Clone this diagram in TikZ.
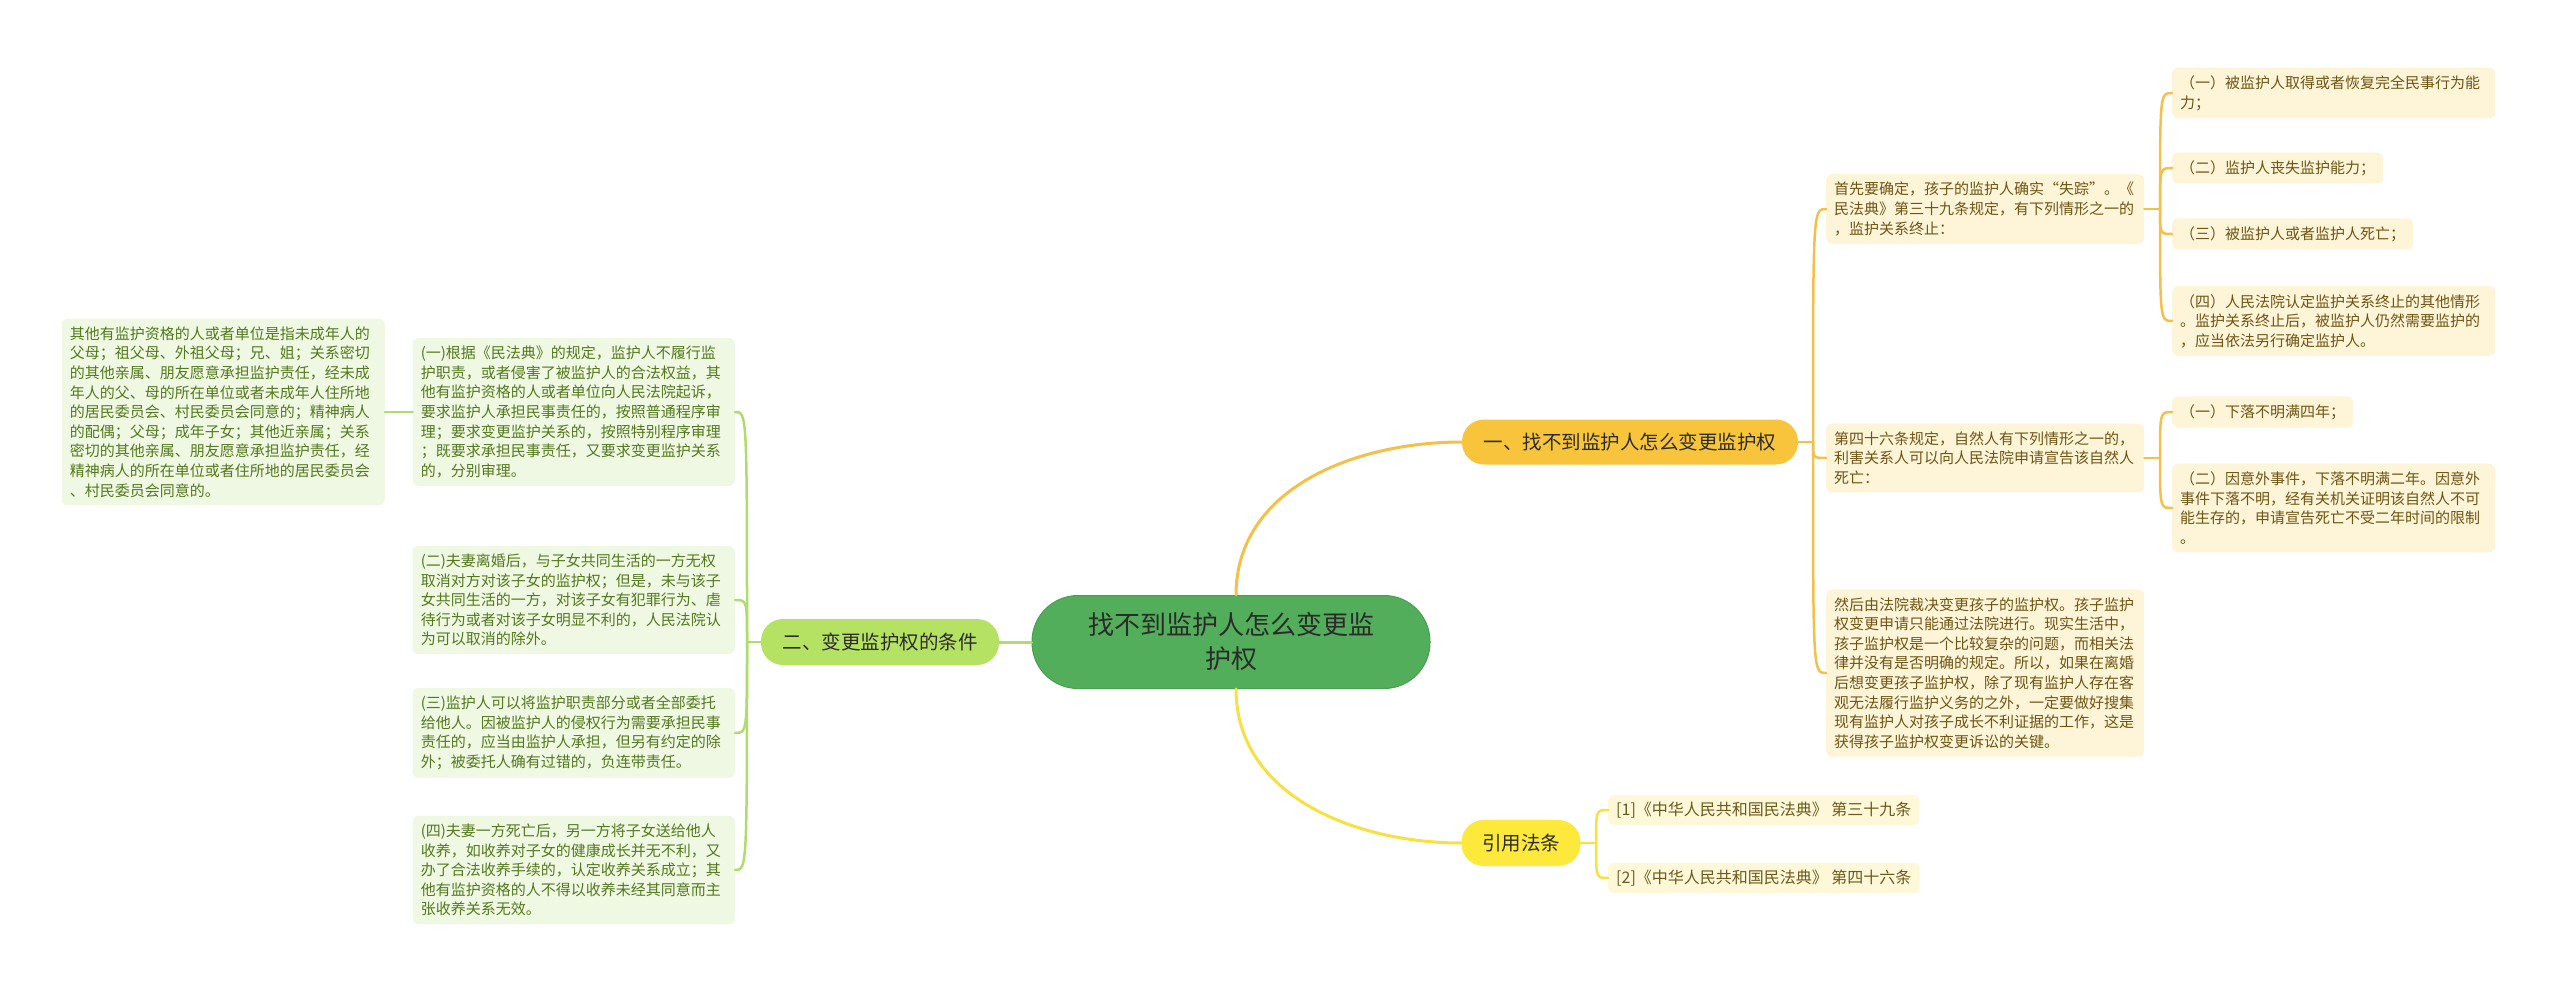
\documentclass[tikz,border=0pt]{standalone}
\usepackage{fontspec}
\setmainfont{Noto Sans CJK SC}
\definecolor{cCenter}{HTML}{52AE5A}
\definecolor{cCenterB}{HTML}{47A04F}
\definecolor{cBrA}{HTML}{F8C43C}
\definecolor{cBrB}{HTML}{B6E264}
\definecolor{cBrC}{HTML}{FDE83C}
\definecolor{fillR}{HTML}{FEF4D8}
\definecolor{textR}{HTML}{6E5514}
\definecolor{fillC}{HTML}{FFF8D8}
\definecolor{textC}{HTML}{6B5A1E}
\definecolor{fillL}{HTML}{EFF8E2}
\definecolor{textL}{HTML}{55781E}
\definecolor{lineO}{HTML}{F4C04A}
\definecolor{lineY}{HTML}{F8E040}
\definecolor{lineG}{HTML}{B0DC6E}
\definecolor{txtDark}{HTML}{2B2B2B}
\begin{document}
\begin{tikzpicture}[x=1pt,y=-1pt,
  leafbase/.style={rounded corners=6pt, inner xsep=8pt, inner ysep=8pt, align=left,
    font=\fontsize{15}{19.6}\selectfont},
  leafR/.style={leafbase, fill=fillR, text=textR},
  leafC/.style={leafbase, fill=fillC, text=textC, font=\fontsize{16}{20}\selectfont, inner ysep=7pt},
  leafL/.style={leafbase, fill=fillL, text=textL},
  branch/.style={rounded corners=22pt, minimum height=45pt, inner xsep=0pt, text=txtDark,
    font=\fontsize{19.5}{23}\selectfont},
  conO/.style={draw=lineO, line width=2.5pt, line cap=round},
  conY/.style={draw=lineY, line width=2.5pt, line cap=round},
  conG/.style={draw=lineG, line width=2.5pt, line cap=round}
]
\useasboundingbox (0,0) rectangle (2560,992);

% center
\node[draw=cCenterB, line width=1pt, fill=cCenter, rounded corners=46pt, minimum width=398pt,
  minimum height=93pt, align=center, text=txtDark, font=\fontsize{26}{34}\selectfont]
  (ctr) at (1231,642) {找不到监护人怎么变更监\\护权};

% branches
\node[branch, fill=cBrA, minimum width=336pt] (bra) at (1630,442) {一、找不到监护人怎么变更监护权};
\node[branch, fill=cBrB, minimum width=238pt, minimum height=46pt] (brb) at (880,642) {二、变更监护权的条件};
\node[branch, fill=cBrC, minimum width=119pt, minimum height=46pt] (brc) at (1521,843) {引用法条};

% right level 2
\node[leafR, text width=302pt, anchor=west] (a1) at (1826,209)
 {首先要确定，孩子的监护人确实“失踪”。《\\民法典》第三十九条规定，有下列情形之一的\\，监护关系终止：};
\node[leafR, text width=302pt, anchor=west] (a2) at (1826,458)
 {第四十六条规定，自然人有下列情形之一的，\\利害关系人可以向人民法院申请宣告该自然人\\死亡：};
\node[leafR, text width=302pt, anchor=west] (a3) at (1826,673)
 {然后由法院裁决变更孩子的监护权。孩子监护\\权变更申请只能通过法院进行。现实生活中，\\孩子监护权是一个比较复杂的问题，而相关法\\律并没有是否明确的规定。所以，如果在离婚\\后想变更孩子监护权，除了现有监护人存在客\\观无法履行监护义务的之外，一定要做好搜集\\现有监护人对孩子成长不利证据的工作，这是\\获得孩子监护权变更诉讼的关键。};

% right level 3
\node[leafR, text width=307pt, anchor=west] (l1) at (2172,93)
 {（一）被监护人取得或者恢复完全民事行为能\\力；};
\node[leafR, anchor=west] (l2) at (2172,168) {（二）监护人丧失监护能力；};
\node[leafR, anchor=west] (l3) at (2172,234) {（三）被监护人或者监护人死亡；};
\node[leafR, text width=307pt, anchor=west] (l4) at (2172,321)
 {（四）人民法院认定监护关系终止的其他情形\\。监护关系终止后，被监护人仍然需要监护的\\，应当依法另行确定监护人。};
\node[leafR, anchor=west] (l5) at (2172,412) {（一）下落不明满四年；};
\node[leafR, text width=307pt, anchor=west] (l6) at (2172,508)
 {（二）因意外事件，下落不明满二年。因意外\\事件下落不明，经有关机关证明该自然人不可\\能生存的，申请宣告死亡不受二年时间的限制\\。};

% citations
\node[leafC, anchor=west] (c1) at (1608,810) {[1]《中华人民共和国民法典》 第三十九条};
\node[leafC, anchor=west] (c2) at (1608,878) {[2]《中华人民共和国民法典》 第四十六条};

% left
\node[leafL, text width=306pt, anchor=east] (b1) at (735,412)
 {(一)根据《民法典》的规定，监护人不履行监\\护职责，或者侵害了被监护人的合法权益，其\\他有监护资格的人或者单位向人民法院起诉，\\要求监护人承担民事责任的，按照普通程序审\\理；要求变更监护关系的，按照特别程序审理\\；既要求承担民事责任，又要求变更监护关系\\的，分别审理。};
\node[leafL, text width=306pt, anchor=east] (b2) at (735,600)
 {(二)夫妻离婚后，与子女共同生活的一方无权\\取消对方对该子女的监护权；但是，未与该子\\女共同生活的一方，对该子女有犯罪行为、虐\\待行为或者对该子女明显不利的，人民法院认\\为可以取消的除外。};
\node[leafL, text width=306pt, anchor=east] (b3) at (735,733)
 {(三)监护人可以将监护职责部分或者全部委托\\给他人。因被监护人的侵权行为需要承担民事\\责任的，应当由监护人承担，但另有约定的除\\外；被委托人确有过错的，负连带责任。};
\node[leafL, text width=306pt, anchor=east] (b4) at (735,870)
 {(四)夫妻一方死亡后，另一方将子女送给他人\\收养，如收养对子女的健康成长并无不利，又\\办了合法收养手续的，认定收养关系成立；其\\他有监护资格的人不得以收养未经其同意而主\\张收养关系无效。};
\node[leafL, text width=307pt, anchor=east] (f1) at (385,412)
 {其他有监护资格的人或者单位是指未成年人的\\父母；祖父母、外祖父母；兄、姐；关系密切\\的其他亲属、朋友愿意承担监护责任，经未成\\年人的父、母的所在单位或者未成年人住所地\\的居民委员会、村民委员会同意的；精神病人\\的配偶；父母；成年子女；其他近亲属；关系\\密切的其他亲属、朋友愿意承担监护责任，经\\精神病人的所在单位或者住所地的居民委员会\\、村民委员会同意的。};

% junction coordinates
\coordinate (ja) at (1813,442);
\coordinate (ja1) at (2160,209);
\coordinate (ja2) at (2160,458);
\coordinate (jc) at (1596,843);
\coordinate (jb) at (747,642);

% connectors from center
\draw[conO, line width=3pt] ([xshift=5pt]ctr.north) to[out=90,in=180] (bra.west);
\draw[conY, line width=3pt] ([xshift=5pt]ctr.south) to[out=-90,in=180] (brc.west);
\draw[conG, line width=3pt] (ctr.west) -- (brb.east);

% branch A
\draw[conO] (bra.east) -- (ja);
\foreach \n in {a1,a2,a3} \draw[conO] (ja) .. controls (ja |- \n.west) .. (\n.west);
\draw[conO] (a1.east) -- (ja1);
\foreach \n in {l1,l2,l3,l4} \draw[conO] (ja1) .. controls (ja1 |- \n.west) .. (\n.west);
\draw[conO] (a2.east) -- (ja2);
\foreach \n in {l5,l6} \draw[conO] (ja2) .. controls (ja2 |- \n.west) .. (\n.west);

% branch C
\draw[conY] (brc.east) -- (jc);
\foreach \n in {c1,c2} \draw[conY] (jc) .. controls (jc |- \n.west) .. (\n.west);

% branch B
\draw[conG] (brb.west) -- (jb);
\foreach \n in {b1,b2,b3,b4} \draw[conG] (jb) .. controls (jb |- \n.east) .. (\n.east);
\draw[conG] (b1.west) -- (f1.east);
\end{tikzpicture}
\end{document}
